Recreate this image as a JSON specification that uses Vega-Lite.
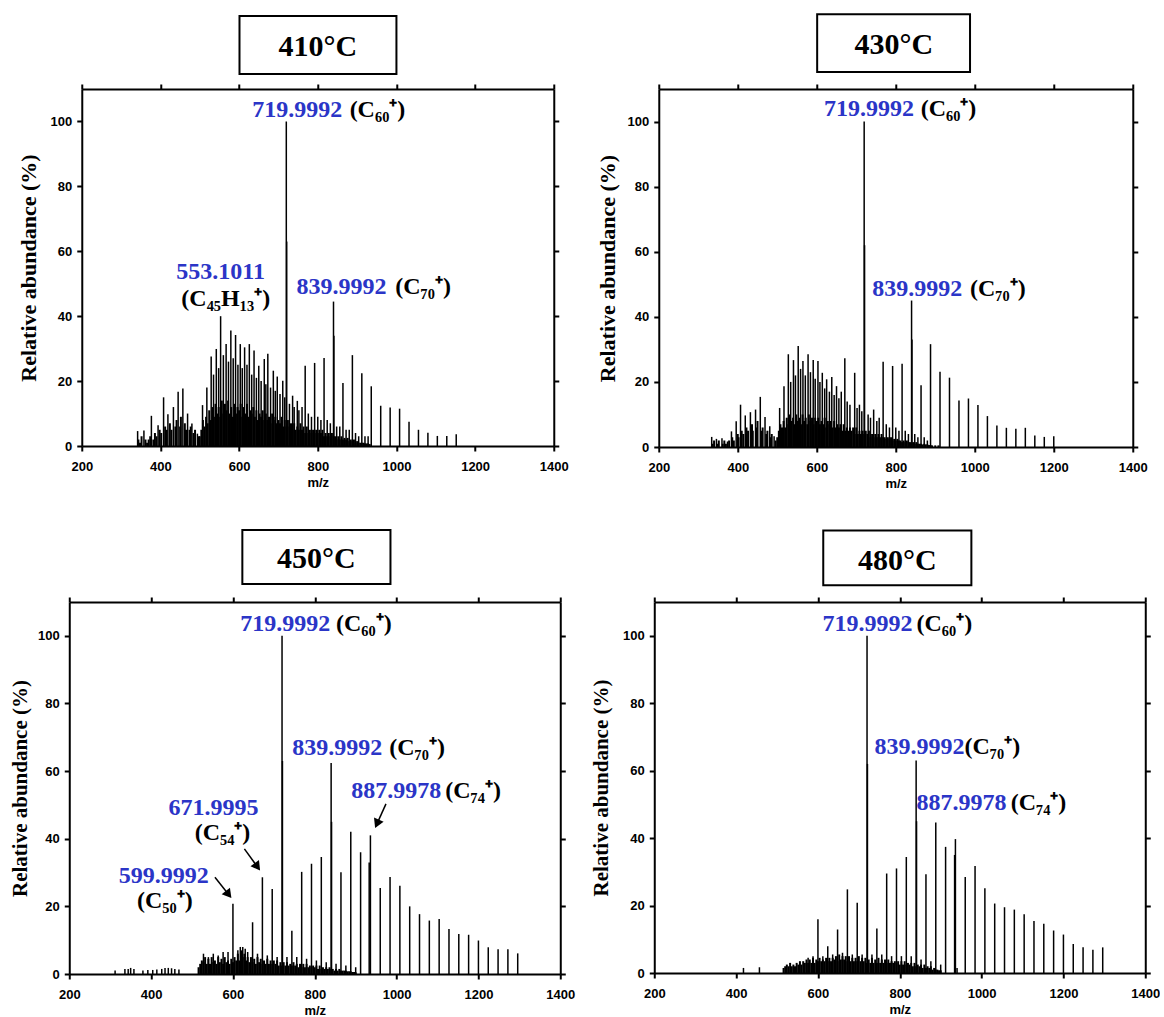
{
"$schema":"https://vega.github.io/schema/vega-lite/v6.json",
"background":"white",
"padding":{"left":9,"top":13,"right":0,"bottom":0},
"datasets":{
"p410":[{"mz":342,"ab":4.6},{"mz":358,"ab":4.8},{"mz":377,"ab":9.3},{"mz":394,"ab":6.4},{"mz":408,"ab":15},{"mz":419,"ab":9.8},{"mz":433,"ab":12},{"mz":445,"ab":16.7},{"mz":457,"ab":17.7},{"mz":469,"ab":10},{"mz":480,"ab":6.9},{"mz":494,"ab":3.8},{"mz":507,"ab":12.6},{"mz":518,"ab":18},{"mz":529,"ab":27.6},{"mz":542,"ab":29.9},{"mz":553,"ab":40},{"mz":567,"ab":31.4},{"mz":579,"ab":35.6},{"mz":591,"ab":34.2},{"mz":603,"ab":31.4},{"mz":614,"ab":30.4},{"mz":626,"ab":31.4},{"mz":638,"ab":29.4},{"mz":650,"ab":24.7},{"mz":664,"ab":26.8},{"mz":673,"ab":28.4},{"mz":687,"ab":23.2},{"mz":697,"ab":21.4},{"mz":711,"ab":20.1},{"mz":720,"ab":100},{"mz":721,"ab":63},{"mz":736,"ab":15.5},{"mz":748,"ab":13.9},{"mz":768,"ab":24.7},{"mz":792,"ab":25.6},{"mz":816,"ab":27.1},{"mz":840,"ab":44.5},{"mz":841,"ab":34},{"mz":864,"ab":19.4},{"mz":888,"ab":28},{"mz":912,"ab":22.4},{"mz":936,"ab":18.4},{"mz":960,"ab":12.4},{"mz":984,"ab":11.9},{"mz":1008,"ab":11.5},{"mz":1032,"ab":7.5},{"mz":1056,"ab":5},{"mz":1080,"ab":4.1},{"mz":1104,"ab":3.1},{"mz":1128,"ab":3.1},{"mz":1152,"ab":3.6},{"mz":535,"ab":22},{"mz":548,"ab":24},{"mz":560,"ab":28},{"mz":573,"ab":26},{"mz":585,"ab":27},{"mz":597,"ab":25},{"mz":608,"ab":24},{"mz":620,"ab":25},{"mz":632,"ab":22},{"mz":644,"ab":21},{"mz":656,"ab":20},{"mz":668,"ab":19},{"mz":680,"ab":18},{"mz":692,"ab":17},{"mz":704,"ab":16},{"mz":716,"ab":15},{"mz":728,"ab":13},{"mz":740,"ab":12},{"mz":752,"ab":11},{"mz":760,"ab":12},{"mz":776,"ab":10},{"mz":784,"ab":9},{"mz":800,"ab":9},{"mz":808,"ab":8},{"mz":824,"ab":8},{"mz":832,"ab":7},{"mz":848,"ab":6},{"mz":856,"ab":6},{"mz":872,"ab":5},{"mz":880,"ab":5},{"mz":896,"ab":4},{"mz":904,"ab":3},{"mz":920,"ab":3},{"mz":928,"ab":3}],
"g410":[{"mz":344,"ab":2},{"mz":348,"ab":1},{"mz":352,"ab":3},{"mz":362,"ab":2},{"mz":366,"ab":1},{"mz":370,"ab":2},{"mz":374,"ab":3},{"mz":382,"ab":2},{"mz":386,"ab":4},{"mz":390,"ab":3},{"mz":398,"ab":5},{"mz":402,"ab":4},{"mz":412,"ab":6},{"mz":416,"ab":5},{"mz":424,"ab":7},{"mz":428,"ab":5},{"mz":438,"ab":6},{"mz":441,"ab":8},{"mz":450,"ab":6},{"mz":452,"ab":9},{"mz":462,"ab":7},{"mz":465,"ab":5},{"mz":474,"ab":5},{"mz":477,"ab":6},{"mz":484,"ab":4},{"mz":488,"ab":5},{"mz":498,"ab":3},
{"mz":500,"ab":3},{"mz":504,"ab":5},{"mz":508,"ab":8},{"mz":512,"ab":6},{"mz":516,"ab":9},{"mz":520,"ab":7},{"mz":524,"ab":11},{"mz":528,"ab":8},{"mz":532,"ab":12},{"mz":536,"ab":9},{"mz":540,"ab":13},{"mz":544,"ab":10},{"mz":548,"ab":12},{"mz":552,"ab":9},{"mz":556,"ab":14},{"mz":560,"ab":10},{"mz":564,"ab":13},{"mz":568,"ab":11},{"mz":572,"ab":14},{"mz":576,"ab":10},{"mz":580,"ab":12},{"mz":584,"ab":9},{"mz":588,"ab":13},{"mz":592,"ab":10},{"mz":596,"ab":12},{"mz":600,"ab":11},{"mz":604,"ab":13},{"mz":608,"ab":9},{"mz":612,"ab":12},{"mz":616,"ab":10},{"mz":620,"ab":13},{"mz":624,"ab":9},{"mz":628,"ab":11},{"mz":632,"ab":10},{"mz":636,"ab":12},{"mz":640,"ab":9},{"mz":644,"ab":11},{"mz":648,"ab":8},{"mz":652,"ab":10},{"mz":656,"ab":9},{"mz":660,"ab":11},{"mz":664,"ab":8},{"mz":668,"ab":10},{"mz":672,"ab":8},{"mz":676,"ab":9},{"mz":680,"ab":7},{"mz":684,"ab":10},{"mz":688,"ab":8},{"mz":692,"ab":9},{"mz":696,"ab":7},{"mz":700,"ab":8},{"mz":704,"ab":7},{"mz":708,"ab":9},{"mz":712,"ab":6},{"mz":716,"ab":8},{"mz":720,"ab":6},{"mz":724,"ab":8},{"mz":728,"ab":6},{"mz":732,"ab":7},{"mz":736,"ab":5},{"mz":740,"ab":7},{"mz":744,"ab":5},{"mz":748,"ab":6},{"mz":752,"ab":5},{"mz":756,"ab":7},{"mz":760,"ab":5},{"mz":764,"ab":6},{"mz":768,"ab":4},{"mz":772,"ab":6},{"mz":776,"ab":4},{"mz":780,"ab":5},{"mz":784,"ab":4},{"mz":788,"ab":5},{"mz":792,"ab":4},{"mz":796,"ab":5},{"mz":800,"ab":4},{"mz":804,"ab":5},{"mz":808,"ab":4},{"mz":812,"ab":5},{"mz":816,"ab":3},{"mz":820,"ab":4},{"mz":824,"ab":3},{"mz":828,"ab":4},{"mz":832,"ab":3},{"mz":836,"ab":4},{"mz":840,"ab":3},{"mz":844,"ab":3},{"mz":848,"ab":2},{"mz":852,"ab":3},{"mz":856,"ab":2},{"mz":860,"ab":3},{"mz":864,"ab":2},{"mz":868,"ab":2.5},{"mz":872,"ab":2},{"mz":876,"ab":2.5},{"mz":880,"ab":1.5},{"mz":884,"ab":2},{"mz":888,"ab":1.5},{"mz":892,"ab":2},{"mz":896,"ab":1},{"mz":900,"ab":1.5},{"mz":904,"ab":1},{"mz":908,"ab":1},{"mz":912,"ab":1},{"mz":916,"ab":1},{"mz":920,"ab":0.8},{"mz":924,"ab":0.8},{"mz":928,"ab":0.8},{"mz":932,"ab":0.6}],
"p430":[{"mz":334,"ab":3.1},{"mz":346,"ab":2.5},{"mz":360,"ab":2.7},{"mz":374,"ab":1.7},{"mz":384,"ab":4.8},{"mz":396,"ab":7.9},{"mz":407,"ab":13},{"mz":419,"ab":9.7},{"mz":432,"ab":10.7},{"mz":445,"ab":11.5},{"mz":457,"ab":15.4},{"mz":469,"ab":9.2},{"mz":481,"ab":6.4},{"mz":492,"ab":3.3},{"mz":506,"ab":12},{"mz":517,"ab":18.7},{"mz":528,"ab":28.5},{"mz":541,"ab":26.7},{"mz":553,"ab":31},{"mz":565,"ab":26.4},{"mz":578,"ab":28.5},{"mz":591,"ab":26.7},{"mz":603,"ab":26.4},{"mz":614,"ab":22.8},{"mz":625,"ab":20.8},{"mz":638,"ab":21.5},{"mz":650,"ab":18.7},{"mz":671,"ab":27.3},{"mz":696,"ab":22.8},{"mz":720,"ab":100},{"mz":721,"ab":62},{"mz":744,"ab":11.5},{"mz":768,"ab":26.2},{"mz":792,"ab":24.9},{"mz":816,"ab":25.6},{"mz":840,"ab":45},{"mz":841,"ab":33},{"mz":864,"ab":19},{"mz":888,"ab":31.6},{"mz":912,"ab":23.1},{"mz":936,"ab":21.3},{"mz":960,"ab":14.3},{"mz":984,"ab":14.9},{"mz":1008,"ab":12.9},{"mz":1032,"ab":9.5},{"mz":1056,"ab":6.6},{"mz":1080,"ab":5.9},{"mz":1104,"ab":5.6},{"mz":1128,"ab":5.9},{"mz":1152,"ab":3.5},{"mz":1176,"ab":3.1},{"mz":1200,"ab":3.3},{"mz":534,"ab":20},{"mz":546,"ab":22},{"mz":559,"ab":24},{"mz":571,"ab":22},{"mz":584,"ab":23},{"mz":596,"ab":21},{"mz":608,"ab":20},{"mz":620,"ab":18},{"mz":632,"ab":17},{"mz":644,"ab":16},{"mz":656,"ab":15},{"mz":662,"ab":17},{"mz":677,"ab":14},{"mz":684,"ab":13},{"mz":702,"ab":12},{"mz":708,"ab":13},{"mz":714,"ab":11},{"mz":730,"ab":10},{"mz":736,"ab":9},{"mz":752,"ab":8},{"mz":758,"ab":9},{"mz":776,"ab":7},{"mz":784,"ab":6},{"mz":800,"ab":6},{"mz":808,"ab":5},{"mz":824,"ab":5},{"mz":832,"ab":4},{"mz":848,"ab":4},{"mz":856,"ab":3},{"mz":872,"ab":3},{"mz":880,"ab":2}],
"g430":[{"mz":336,"ab":1},{"mz":340,"ab":2},{"mz":348,"ab":1},{"mz":352,"ab":2},{"mz":362,"ab":1},{"mz":366,"ab":2},{"mz":370,"ab":1},{"mz":378,"ab":2},{"mz":386,"ab":3},{"mz":390,"ab":2},{"mz":400,"ab":4},{"mz":402,"ab":3},{"mz":410,"ab":5},{"mz":414,"ab":4},{"mz":422,"ab":6},{"mz":426,"ab":5},{"mz":436,"ab":7},{"mz":438,"ab":5},{"mz":448,"ab":6},{"mz":450,"ab":8},{"mz":460,"ab":5},{"mz":463,"ab":6},{"mz":472,"ab":4},{"mz":475,"ab":5},{"mz":484,"ab":3},{"mz":486,"ab":4},{"mz":496,"ab":2},
{"mz":500,"ab":3},{"mz":504,"ab":5},{"mz":508,"ab":7},{"mz":512,"ab":6},{"mz":516,"ab":8},{"mz":520,"ab":6},{"mz":524,"ab":9},{"mz":528,"ab":7},{"mz":532,"ab":10},{"mz":536,"ab":8},{"mz":540,"ab":9},{"mz":544,"ab":7},{"mz":548,"ab":10},{"mz":552,"ab":8},{"mz":556,"ab":9},{"mz":560,"ab":7},{"mz":564,"ab":10},{"mz":568,"ab":8},{"mz":572,"ab":9},{"mz":576,"ab":7},{"mz":580,"ab":10},{"mz":584,"ab":8},{"mz":588,"ab":9},{"mz":592,"ab":7},{"mz":596,"ab":9},{"mz":600,"ab":8},{"mz":604,"ab":9},{"mz":608,"ab":7},{"mz":612,"ab":8},{"mz":616,"ab":7},{"mz":620,"ab":9},{"mz":624,"ab":6},{"mz":628,"ab":8},{"mz":632,"ab":7},{"mz":636,"ab":8},{"mz":640,"ab":6},{"mz":644,"ab":8},{"mz":648,"ab":6},{"mz":652,"ab":7},{"mz":656,"ab":6},{"mz":660,"ab":7},{"mz":664,"ab":5},{"mz":668,"ab":7},{"mz":672,"ab":5},{"mz":676,"ab":6},{"mz":680,"ab":5},{"mz":684,"ab":6},{"mz":688,"ab":5},{"mz":692,"ab":6},{"mz":696,"ab":4},{"mz":700,"ab":6},{"mz":704,"ab":4},{"mz":708,"ab":5},{"mz":712,"ab":4},{"mz":716,"ab":5},{"mz":720,"ab":4},{"mz":724,"ab":5},{"mz":728,"ab":4},{"mz":732,"ab":5},{"mz":736,"ab":3},{"mz":740,"ab":4},{"mz":744,"ab":3},{"mz":748,"ab":4},{"mz":752,"ab":3},{"mz":756,"ab":4},{"mz":760,"ab":3},{"mz":764,"ab":4},{"mz":768,"ab":3},{"mz":772,"ab":3},{"mz":776,"ab":2.5},{"mz":780,"ab":3},{"mz":784,"ab":2.5},{"mz":788,"ab":3},{"mz":792,"ab":2},{"mz":796,"ab":2.5},{"mz":800,"ab":2},{"mz":804,"ab":2.5},{"mz":808,"ab":2},{"mz":812,"ab":2},{"mz":816,"ab":1.5},{"mz":820,"ab":2},{"mz":824,"ab":1.5},{"mz":828,"ab":2},{"mz":832,"ab":1.5},{"mz":836,"ab":1.5},{"mz":840,"ab":1},{"mz":844,"ab":1.5},{"mz":848,"ab":1},{"mz":852,"ab":1.5},{"mz":856,"ab":1},{"mz":860,"ab":1},{"mz":864,"ab":1},{"mz":868,"ab":0.8},{"mz":872,"ab":1},{"mz":876,"ab":0.8},{"mz":880,"ab":0.8},{"mz":884,"ab":0.6},{"mz":888,"ab":0.6},{"mz":892,"ab":0.5},{"mz":900,"ab":0.5},{"mz":908,"ab":0.5}],
"p450":[{"mz":600,"ab":20.8},{"mz":624,"ab":8},{"mz":648,"ab":15.3},{"mz":672,"ab":28.6},{"mz":696,"ab":25.1},{"mz":720,"ab":100},{"mz":721,"ab":63},{"mz":744,"ab":12.8},{"mz":768,"ab":30.2},{"mz":792,"ab":32.6},{"mz":816,"ab":34.6},{"mz":840,"ab":62.4},{"mz":841,"ab":45},{"mz":864,"ab":30.1},{"mz":888,"ab":42.1},{"mz":912,"ab":36},{"mz":933,"ab":33},{"mz":936,"ab":41},{"mz":960,"ab":25.4},{"mz":984,"ab":28.7},{"mz":1008,"ab":26.1},{"mz":1032,"ab":20},{"mz":1056,"ab":17.7},{"mz":1080,"ab":15.8},{"mz":1104,"ab":16.3},{"mz":1128,"ab":13.3},{"mz":1152,"ab":11.8},{"mz":1176,"ab":11.6},{"mz":1200,"ab":9.9},{"mz":1224,"ab":7.9},{"mz":1248,"ab":7.3},{"mz":1272,"ab":7.3},{"mz":1296,"ab":6.1},{"mz":312,"ab":1},{"mz":336,"ab":1.5},{"mz":344,"ab":1.5},{"mz":350,"ab":1.8},{"mz":358,"ab":1.5},{"mz":380,"ab":1},{"mz":392,"ab":1.2},{"mz":404,"ab":1.2},{"mz":414,"ab":1.3},{"mz":426,"ab":1.5},{"mz":434,"ab":1.8},{"mz":442,"ab":1.8},{"mz":450,"ab":1.7},{"mz":458,"ab":1.5},{"mz":468,"ab":1.3},{"mz":528,"ab":6},{"mz":540,"ab":5},{"mz":552,"ab":6},{"mz":564,"ab":5.5},{"mz":576,"ab":6.5},{"mz":588,"ab":6.5},{"mz":612,"ab":7},{"mz":618,"ab":8},{"mz":630,"ab":7.5},{"mz":636,"ab":6.5},{"mz":660,"ab":6},{"mz":684,"ab":5.5},{"mz":708,"ab":5},{"mz":732,"ab":5},{"mz":756,"ab":5},{"mz":780,"ab":4.5},{"mz":804,"ab":4},{"mz":828,"ab":3.5},{"mz":852,"ab":3},{"mz":876,"ab":2.5},{"mz":900,"ab":2}],
"g450":[{"mz":516,"ab":2},{"mz":520,"ab":3},{"mz":524,"ab":4},{"mz":528,"ab":3.5},{"mz":532,"ab":5},{"mz":536,"ab":3},{"mz":540,"ab":4.5},{"mz":544,"ab":3},{"mz":548,"ab":5},{"mz":552,"ab":3.5},{"mz":556,"ab":4},{"mz":560,"ab":3},{"mz":564,"ab":5},{"mz":568,"ab":3.5},{"mz":572,"ab":4.5},{"mz":576,"ab":3},{"mz":580,"ab":5},{"mz":584,"ab":3.5},{"mz":588,"ab":4},{"mz":592,"ab":3},{"mz":596,"ab":4.5},{"mz":600,"ab":3.5},{"mz":604,"ab":5},{"mz":608,"ab":4},{"mz":612,"ab":6},{"mz":616,"ab":4},{"mz":620,"ab":7},{"mz":624,"ab":5},{"mz":628,"ab":6},{"mz":632,"ab":4},{"mz":636,"ab":5},{"mz":640,"ab":3.5},{"mz":644,"ab":5},{"mz":648,"ab":3.5},{"mz":652,"ab":4.5},{"mz":656,"ab":3},{"mz":660,"ab":5},{"mz":664,"ab":3.5},{"mz":668,"ab":4.5},{"mz":672,"ab":3},{"mz":676,"ab":4},{"mz":680,"ab":3},{"mz":684,"ab":4.5},{"mz":688,"ab":3},{"mz":692,"ab":4},{"mz":696,"ab":3},{"mz":700,"ab":4},{"mz":704,"ab":3},{"mz":708,"ab":4},{"mz":712,"ab":2.5},{"mz":716,"ab":3.5},{"mz":720,"ab":2.5},{"mz":724,"ab":3.5},{"mz":728,"ab":2.5},{"mz":732,"ab":3.5},{"mz":736,"ab":2.5},{"mz":740,"ab":3},{"mz":744,"ab":2.5},{"mz":748,"ab":3.5},{"mz":752,"ab":2.5},{"mz":756,"ab":3},{"mz":760,"ab":2},{"mz":764,"ab":3},{"mz":768,"ab":2},{"mz":772,"ab":3},{"mz":776,"ab":2},{"mz":780,"ab":3},{"mz":784,"ab":2},{"mz":788,"ab":2.5},{"mz":792,"ab":2},{"mz":796,"ab":2.5},{"mz":800,"ab":2},{"mz":804,"ab":2.5},{"mz":808,"ab":1.5},{"mz":812,"ab":2.5},{"mz":816,"ab":1.5},{"mz":820,"ab":2},{"mz":824,"ab":1.5},{"mz":828,"ab":2},{"mz":832,"ab":1.5},{"mz":836,"ab":2},{"mz":840,"ab":1.5},{"mz":844,"ab":1.5},{"mz":848,"ab":1},{"mz":852,"ab":1.5},{"mz":856,"ab":1},{"mz":860,"ab":1.5},{"mz":864,"ab":1},{"mz":868,"ab":1},{"mz":872,"ab":1},{"mz":876,"ab":1},{"mz":880,"ab":0.8},{"mz":884,"ab":0.8},{"mz":888,"ab":0.8},{"mz":892,"ab":0.6},{"mz":896,"ab":0.6},{"mz":900,"ab":0.5}],
"p480":[{"mz":418,"ab":1.5},{"mz":457,"ab":1.7},{"mz":600,"ab":15.9},{"mz":624,"ab":7.9},{"mz":648,"ab":12.9},{"mz":672,"ab":24.8},{"mz":696,"ab":20.8},{"mz":720,"ab":100},{"mz":721,"ab":62},{"mz":744,"ab":13.2},{"mz":768,"ab":29.5},{"mz":792,"ab":31},{"mz":816,"ab":34.4},{"mz":840,"ab":63},{"mz":841,"ab":45},{"mz":864,"ab":29.3},{"mz":888,"ab":44.6},{"mz":912,"ab":37.4},{"mz":934,"ab":35},{"mz":936,"ab":39.7},{"mz":960,"ab":28.5},{"mz":984,"ab":31.7},{"mz":1008,"ab":25.1},{"mz":1032,"ab":20.6},{"mz":1056,"ab":19.5},{"mz":1080,"ab":18.8},{"mz":1104,"ab":17.4},{"mz":1128,"ab":15.4},{"mz":1152,"ab":14.6},{"mz":1176,"ab":12.6},{"mz":1200,"ab":11.4},{"mz":1224,"ab":8.6},{"mz":1248,"ab":7.6},{"mz":1272,"ab":6.9},{"mz":1296,"ab":7.6},{"mz":576,"ab":4.5},{"mz":588,"ab":5},{"mz":612,"ab":5},{"mz":636,"ab":5.5},{"mz":660,"ab":6},{"mz":684,"ab":5.5},{"mz":708,"ab":5.5},{"mz":732,"ab":5.5},{"mz":756,"ab":5.5},{"mz":780,"ab":5},{"mz":804,"ab":5},{"mz":828,"ab":5},{"mz":852,"ab":4},{"mz":876,"ab":3.5},{"mz":900,"ab":2.5},{"mz":940,"ab":1.5}],
"g480":[{"mz":516,"ab":1.5},{"mz":520,"ab":2},{"mz":524,"ab":2.5},{"mz":528,"ab":2},{"mz":532,"ab":3},{"mz":536,"ab":2},{"mz":540,"ab":2.5},{"mz":544,"ab":2},{"mz":548,"ab":3},{"mz":552,"ab":2.5},{"mz":556,"ab":3.5},{"mz":560,"ab":2.5},{"mz":564,"ab":3.5},{"mz":568,"ab":3},{"mz":572,"ab":4},{"mz":576,"ab":3},{"mz":580,"ab":4},{"mz":584,"ab":3},{"mz":588,"ab":4.5},{"mz":592,"ab":3},{"mz":596,"ab":4},{"mz":600,"ab":3.5},{"mz":604,"ab":4.5},{"mz":608,"ab":3.5},{"mz":612,"ab":4},{"mz":616,"ab":3.5},{"mz":620,"ab":4.5},{"mz":624,"ab":3.5},{"mz":628,"ab":4.5},{"mz":632,"ab":3.5},{"mz":636,"ab":4.5},{"mz":640,"ab":4},{"mz":644,"ab":5},{"mz":648,"ab":3.5},{"mz":652,"ab":5.5},{"mz":656,"ab":4},{"mz":660,"ab":5},{"mz":664,"ab":4},{"mz":668,"ab":5},{"mz":672,"ab":3.5},{"mz":676,"ab":5},{"mz":680,"ab":3.5},{"mz":684,"ab":4.5},{"mz":688,"ab":3.5},{"mz":692,"ab":4.5},{"mz":696,"ab":3.5},{"mz":700,"ab":5},{"mz":704,"ab":3.5},{"mz":708,"ab":4.5},{"mz":712,"ab":3.5},{"mz":716,"ab":4.5},{"mz":720,"ab":3},{"mz":724,"ab":4},{"mz":728,"ab":3},{"mz":732,"ab":4.5},{"mz":736,"ab":3},{"mz":740,"ab":4},{"mz":744,"ab":3},{"mz":748,"ab":4.5},{"mz":752,"ab":3},{"mz":756,"ab":4},{"mz":760,"ab":3},{"mz":764,"ab":4},{"mz":768,"ab":3},{"mz":772,"ab":4},{"mz":776,"ab":3},{"mz":780,"ab":3.5},{"mz":784,"ab":3},{"mz":788,"ab":3.5},{"mz":792,"ab":3},{"mz":796,"ab":3.5},{"mz":800,"ab":2.5},{"mz":804,"ab":3.5},{"mz":808,"ab":2.5},{"mz":812,"ab":3.5},{"mz":816,"ab":2.5},{"mz":820,"ab":3},{"mz":824,"ab":2.5},{"mz":828,"ab":3},{"mz":832,"ab":2},{"mz":836,"ab":3},{"mz":840,"ab":2},{"mz":844,"ab":2.5},{"mz":848,"ab":2},{"mz":852,"ab":2.5},{"mz":856,"ab":1.5},{"mz":860,"ab":2.5},{"mz":864,"ab":1.5},{"mz":868,"ab":2},{"mz":872,"ab":1.5},{"mz":876,"ab":2},{"mz":880,"ab":1},{"mz":884,"ab":1.5},{"mz":888,"ab":1},{"mz":892,"ab":1},{"mz":896,"ab":0.8},{"mz":900,"ab":0.8}],
"t410":[{"mz":862,"ab":103.5,"label":"719.9992","ink":"blue","anchor":"right"},{"mz":881,"ab":103.5,"label":"(C₆₀⁺)","ink":"black","anchor":"left"},{"mz":975,"ab":49,"label":"839.9992","ink":"blue","anchor":"right"},{"mz":997,"ab":49,"label":"(C₇₀⁺)","ink":"black","anchor":"left"},{"mz":553,"ab":53.6,"label":"553.1011","ink":"blue","anchor":"center"},{"mz":566,"ab":45.4,"label":"(C₄₅H₁₃⁺)","ink":"black","anchor":"center"}],
"t430":[{"mz":846,"ab":104,"label":"719.9992","ink":"blue","anchor":"right"},{"mz":863,"ab":104,"label":"(C₆₀⁺)","ink":"black","anchor":"left"},{"mz":968,"ab":48.6,"label":"839.9992","ink":"blue","anchor":"right"},{"mz":988,"ab":48.6,"label":"(C₇₀⁺)","ink":"black","anchor":"left"}],
"t450":[{"mz":838,"ab":103.5,"label":"719.9992","ink":"blue","anchor":"right"},{"mz":852,"ab":103.5,"label":"(C₆₀⁺)","ink":"black","anchor":"left"},{"mz":965,"ab":66.8,"label":"839.9992","ink":"blue","anchor":"right"},{"mz":982,"ab":66.8,"label":"(C₇₀⁺)","ink":"black","anchor":"left"},{"mz":1109,"ab":54,"label":"887.9978","ink":"blue","anchor":"right"},{"mz":1119,"ab":54,"label":"(C₇₄⁺)","ink":"black","anchor":"left"},{"mz":552.5,"ab":49,"label":"671.9995","ink":"blue","anchor":"center"},{"mz":574.5,"ab":41.6,"label":"(C₅₄⁺)","ink":"black","anchor":"center"},{"mz":431,"ab":29,"label":"599.9992","ink":"blue","anchor":"center"},{"mz":433.5,"ab":21.6,"label":"(C₅₀⁺)","ink":"black","anchor":"center"}],
"t480":[{"mz":831,"ab":103.5,"label":"719.9992","ink":"blue","anchor":"right"},{"mz":841,"ab":103.5,"label":"(C₆₀⁺)","ink":"black","anchor":"left"},{"mz":958,"ab":67,"label":"839.9992","ink":"blue","anchor":"right"},{"mz":958,"ab":67,"label":"(C₇₀⁺)","ink":"black","anchor":"left"},{"mz":1061,"ab":50.4,"label":"887.9978","ink":"blue","anchor":"right"},{"mz":1071,"ab":50.4,"label":"(C₇₄⁺)","ink":"black","anchor":"left"}],
"a450":[{"mz":556,"ab":28.6,"mz2":589.4,"ab2":23.5},{"mz":628,"ab":37,"mz2":659.8,"ab2":31.7},{"mz":974,"ab":50.3,"mz2":952,"ab2":44.4}]
},
"vconcat":[
{"hconcat":[
{"width":472,"height":357,"layer":[
{"data":{"name":"g410"},"mark":{"type":"rule","strokeWidth":2,"color":"black"},"encoding":{"x":{"field":"mz","type":"quantitative","scale":{"domain":[200,1400]},"axis":{"orient":"bottom","values":[200,400,600,800,1000,1200,1400],"format":"d","title":"m/z","titleFont":"Liberation Sans","titleFontWeight":"bold","titleFontSize":13,"labelPadding":9,"titlePadding":3}},"y":{"field":"ab","type":"quantitative","scale":{"domain":[0,110]},"axis":{"orient":"left","values":[0,20,40,60,80,100],"title":"Relative abundance (%)","titleFont":"Liberation Serif","titleFontWeight":"bold","titleFontSize":22,"labelPadding":5,"titlePadding":10}},"y2":{"datum":0}}},
{"data":{"name":"p410"},"mark":{"type":"rule","strokeWidth":1.5,"color":"black"},"encoding":{"x":{"field":"mz","type":"quantitative","scale":{"domain":[200,1400]},"axis":null},"y":{"field":"ab","type":"quantitative","scale":{"domain":[0,110]},"axis":null},"y2":{"datum":0}}},
{"data":{"values":[{"x1":601,"x2":1000,"y1":114.6,"y2":132.5}]},"mark":{"type":"rect","fill":"white","stroke":"black","strokeWidth":2},"encoding":{"x":{"field":"x1","type":"quantitative","scale":{"domain":[200,1400]},"axis":{"orient":"top","values":[200,400,600,800,1000,1200,1400],"labels":false,"title":null}},"x2":{"field":"x2"},"y":{"field":"y1","type":"quantitative","scale":{"domain":[0,110]},"axis":{"orient":"right","values":[0,20,40,60,80,100],"labels":false,"title":null}},"y2":{"field":"y2"}}},
{"data":{"values":[{"mz":800,"ab":123,"t":"410°C"}]},"mark":{"type":"text","fontSize":30,"align":"center","color":"black"},"encoding":{"x":{"field":"mz","type":"quantitative","scale":{"domain":[200,1400]},"axis":null},"y":{"field":"ab","type":"quantitative","scale":{"domain":[0,110]},"axis":null},"text":{"field":"t"}}},
{"data":{"name":"t410"},"transform":[{"filter":"datum.anchor == 'right'"}],"mark":{"type":"text","align":"right"},"encoding":{"x":{"field":"mz","type":"quantitative","scale":{"domain":[200,1400]},"axis":null},"y":{"field":"ab","type":"quantitative","scale":{"domain":[0,110]},"axis":null},"text":{"field":"label"},"color":{"field":"ink","type":"nominal","scale":{"domain":["blue","black"],"range":["#2b35c7","#000000"]},"legend":null}}},
{"data":{"name":"t410"},"transform":[{"filter":"datum.anchor == 'left'"}],"mark":{"type":"text","align":"left"},"encoding":{"x":{"field":"mz","type":"quantitative","scale":{"domain":[200,1400]},"axis":null},"y":{"field":"ab","type":"quantitative","scale":{"domain":[0,110]},"axis":null},"text":{"field":"label"},"color":{"field":"ink","type":"nominal","scale":{"domain":["blue","black"],"range":["#2b35c7","#000000"]},"legend":null}}},
{"data":{"name":"t410"},"transform":[{"filter":"datum.anchor == 'center'"}],"mark":{"type":"text","align":"center"},"encoding":{"x":{"field":"mz","type":"quantitative","scale":{"domain":[200,1400]},"axis":null},"y":{"field":"ab","type":"quantitative","scale":{"domain":[0,110]},"axis":null},"text":{"field":"label"},"color":{"field":"ink","type":"nominal","scale":{"domain":["blue","black"],"range":["#2b35c7","#000000"]},"legend":null}}}
],"resolve":{"axis":{"x":"independent","y":"independent"}}},
{"width":474,"height":358,"layer":[
{"data":{"name":"g430"},"mark":{"type":"rule","strokeWidth":2,"color":"black"},"encoding":{"x":{"field":"mz","type":"quantitative","scale":{"domain":[200,1400]},"axis":{"orient":"bottom","values":[200,400,600,800,1000,1200,1400],"format":"d","title":"m/z","titleFont":"Liberation Sans","titleFontWeight":"bold","titleFontSize":13,"labelPadding":9,"titlePadding":3}},"y":{"field":"ab","type":"quantitative","scale":{"domain":[0,110]},"axis":{"orient":"left","values":[0,20,40,60,80,100],"title":"Relative abundance (%)","titleFont":"Liberation Serif","titleFontWeight":"bold","titleFontSize":22,"labelPadding":5,"titlePadding":8}},"y2":{"datum":0}}},
{"data":{"name":"p430"},"mark":{"type":"rule","strokeWidth":1.5,"color":"black"},"encoding":{"x":{"field":"mz","type":"quantitative","scale":{"domain":[200,1400]},"axis":null},"y":{"field":"ab","type":"quantitative","scale":{"domain":[0,110]},"axis":null},"y2":{"datum":0}}},
{"data":{"values":[{"x1":601,"x2":988,"y1":115.2,"y2":133}]},"mark":{"type":"rect","fill":"white","stroke":"black","strokeWidth":2},"encoding":{"x":{"field":"x1","type":"quantitative","scale":{"domain":[200,1400]},"axis":{"orient":"top","values":[200,400,600,800,1000,1200,1400],"labels":false,"title":null}},"x2":{"field":"x2"},"y":{"field":"y1","type":"quantitative","scale":{"domain":[0,110]},"axis":{"orient":"right","values":[0,20,40,60,80,100],"labels":false,"title":null}},"y2":{"field":"y2"}}},
{"data":{"values":[{"mz":795,"ab":123.6,"t":"430°C"}]},"mark":{"type":"text","fontSize":30,"align":"center","color":"black"},"encoding":{"x":{"field":"mz","type":"quantitative","scale":{"domain":[200,1400]},"axis":null},"y":{"field":"ab","type":"quantitative","scale":{"domain":[0,110]},"axis":null},"text":{"field":"t"}}},
{"data":{"name":"t430"},"transform":[{"filter":"datum.anchor == 'right'"}],"mark":{"type":"text","align":"right"},"encoding":{"x":{"field":"mz","type":"quantitative","scale":{"domain":[200,1400]},"axis":null},"y":{"field":"ab","type":"quantitative","scale":{"domain":[0,110]},"axis":null},"text":{"field":"label"},"color":{"field":"ink","type":"nominal","scale":{"domain":["blue","black"],"range":["#2b35c7","#000000"]},"legend":null}}},
{"data":{"name":"t430"},"transform":[{"filter":"datum.anchor == 'left'"}],"mark":{"type":"text","align":"left"},"encoding":{"x":{"field":"mz","type":"quantitative","scale":{"domain":[200,1400]},"axis":null},"y":{"field":"ab","type":"quantitative","scale":{"domain":[0,110]},"axis":null},"text":{"field":"label"},"color":{"field":"ink","type":"nominal","scale":{"domain":["blue","black"],"range":["#2b35c7","#000000"]},"legend":null}}}
],"resolve":{"axis":{"x":"independent","y":"independent"}}}
],"spacing":105,"bounds":"flush"},
{"hconcat":[
{"width":491,"height":372,"layer":[
{"data":{"name":"g450"},"mark":{"type":"rule","strokeWidth":2,"color":"black"},"encoding":{"x":{"field":"mz","type":"quantitative","scale":{"domain":[200,1400]},"axis":{"orient":"bottom","values":[200,400,600,800,1000,1200,1400],"format":"d","title":"m/z","titleFont":"Liberation Sans","titleFontWeight":"bold","titleFontSize":13,"labelPadding":9,"titlePadding":3}},"y":{"field":"ab","type":"quantitative","scale":{"domain":[0,110]},"axis":{"orient":"left","values":[0,20,40,60,80,100],"title":"Relative abundance (%)","titleFont":"Liberation Serif","titleFontWeight":"bold","titleFontSize":21,"labelPadding":5,"titlePadding":7}},"y2":{"datum":0}}},
{"data":{"name":"p450"},"mark":{"type":"rule","strokeWidth":1.5,"color":"black"},"encoding":{"x":{"field":"mz","type":"quantitative","scale":{"domain":[200,1400]},"axis":null},"y":{"field":"ab","type":"quantitative","scale":{"domain":[0,110]},"axis":null},"y2":{"datum":0}}},
{"data":{"values":[{"x1":623,"x2":985,"y1":115.3,"y2":131.3}]},"mark":{"type":"rect","fill":"white","stroke":"black","strokeWidth":2},"encoding":{"x":{"field":"x1","type":"quantitative","scale":{"domain":[200,1400]},"axis":{"orient":"top","values":[200,400,600,800,1000,1200,1400],"labels":false,"title":null}},"x2":{"field":"x2"},"y":{"field":"y1","type":"quantitative","scale":{"domain":[0,110]},"axis":{"orient":"right","values":[0,20,40,60,80,100],"labels":false,"title":null}},"y2":{"field":"y2"}}},
{"data":{"values":[{"mz":804,"ab":122.6,"t":"450°C"}]},"mark":{"type":"text","fontSize":30,"align":"center","color":"black"},"encoding":{"x":{"field":"mz","type":"quantitative","scale":{"domain":[200,1400]},"axis":null},"y":{"field":"ab","type":"quantitative","scale":{"domain":[0,110]},"axis":null},"text":{"field":"t"}}},
{"data":{"name":"a450"},"mark":{"type":"rule","strokeWidth":1.5,"color":"black"},"encoding":{"x":{"field":"mz","type":"quantitative","scale":{"domain":[200,1400]},"axis":null},"y":{"field":"ab","type":"quantitative","scale":{"domain":[0,110]},"axis":null},"x2":{"field":"mz2"},"y2":{"field":"ab2"}}},
{"data":{"values":[{"mz":589.4,"ab":23.5}]},"mark":{"type":"point","shape":"triangle-up","filled":true,"color":"black","opacity":1,"size":110,"angle":142},"encoding":{"x":{"field":"mz","type":"quantitative","scale":{"domain":[200,1400]},"axis":null},"y":{"field":"ab","type":"quantitative","scale":{"domain":[0,110]},"axis":null}}},
{"data":{"values":[{"mz":659.8,"ab":31.7}]},"mark":{"type":"point","shape":"triangle-up","filled":true,"color":"black","opacity":1,"size":110,"angle":144},"encoding":{"x":{"field":"mz","type":"quantitative","scale":{"domain":[200,1400]},"axis":null},"y":{"field":"ab","type":"quantitative","scale":{"domain":[0,110]},"axis":null}}},
{"data":{"values":[{"mz":952,"ab":44.4}]},"mark":{"type":"point","shape":"triangle-up","filled":true,"color":"black","opacity":1,"size":110,"angle":204},"encoding":{"x":{"field":"mz","type":"quantitative","scale":{"domain":[200,1400]},"axis":null},"y":{"field":"ab","type":"quantitative","scale":{"domain":[0,110]},"axis":null}}},
{"data":{"name":"t450"},"transform":[{"filter":"datum.anchor == 'right'"}],"mark":{"type":"text","align":"right"},"encoding":{"x":{"field":"mz","type":"quantitative","scale":{"domain":[200,1400]},"axis":null},"y":{"field":"ab","type":"quantitative","scale":{"domain":[0,110]},"axis":null},"text":{"field":"label"},"color":{"field":"ink","type":"nominal","scale":{"domain":["blue","black"],"range":["#2b35c7","#000000"]},"legend":null}}},
{"data":{"name":"t450"},"transform":[{"filter":"datum.anchor == 'left'"}],"mark":{"type":"text","align":"left"},"encoding":{"x":{"field":"mz","type":"quantitative","scale":{"domain":[200,1400]},"axis":null},"y":{"field":"ab","type":"quantitative","scale":{"domain":[0,110]},"axis":null},"text":{"field":"label"},"color":{"field":"ink","type":"nominal","scale":{"domain":["blue","black"],"range":["#2b35c7","#000000"]},"legend":null}}},
{"data":{"name":"t450"},"transform":[{"filter":"datum.anchor == 'center'"}],"mark":{"type":"text","align":"center"},"encoding":{"x":{"field":"mz","type":"quantitative","scale":{"domain":[200,1400]},"axis":null},"y":{"field":"ab","type":"quantitative","scale":{"domain":[0,110]},"axis":null},"text":{"field":"label"},"color":{"field":"ink","type":"nominal","scale":{"domain":["blue","black"],"range":["#2b35c7","#000000"]},"legend":null}}}
],"resolve":{"axis":{"x":"independent","y":"independent"}}},
{"width":491,"height":371,"layer":[
{"data":{"name":"g480"},"mark":{"type":"rule","strokeWidth":2,"color":"black"},"encoding":{"x":{"field":"mz","type":"quantitative","scale":{"domain":[200,1400]},"axis":{"orient":"bottom","values":[200,400,600,800,1000,1200,1400],"format":"d","title":"m/z","titleFont":"Liberation Sans","titleFontWeight":"bold","titleFontSize":13,"labelPadding":9,"titlePadding":3}},"y":{"field":"ab","type":"quantitative","scale":{"domain":[0,110]},"axis":{"orient":"left","values":[0,20,40,60,80,100],"title":"Relative abundance (%)","titleFont":"Liberation Serif","titleFontWeight":"bold","titleFontSize":21,"labelPadding":5,"titlePadding":11}},"y2":{"datum":0}}},
{"data":{"name":"p480"},"mark":{"type":"rule","strokeWidth":1.5,"color":"black"},"encoding":{"x":{"field":"mz","type":"quantitative","scale":{"domain":[200,1400]},"axis":null},"y":{"field":"ab","type":"quantitative","scale":{"domain":[0,110]},"axis":null},"y2":{"datum":0}}},
{"data":{"values":[{"x1":613,"x2":975,"y1":115,"y2":131.2}]},"mark":{"type":"rect","fill":"white","stroke":"black","strokeWidth":2},"encoding":{"x":{"field":"x1","type":"quantitative","scale":{"domain":[200,1400]},"axis":{"orient":"top","values":[200,400,600,800,1000,1200,1400],"labels":false,"title":null}},"x2":{"field":"x2"},"y":{"field":"y1","type":"quantitative","scale":{"domain":[0,110]},"axis":{"orient":"right","values":[0,20,40,60,80,100],"labels":false,"title":null}},"y2":{"field":"y2"}}},
{"data":{"values":[{"mz":794,"ab":122.2,"t":"480°C"}]},"mark":{"type":"text","fontSize":30,"align":"center","color":"black"},"encoding":{"x":{"field":"mz","type":"quantitative","scale":{"domain":[200,1400]},"axis":null},"y":{"field":"ab","type":"quantitative","scale":{"domain":[0,110]},"axis":null},"text":{"field":"t"}}},
{"data":{"name":"t480"},"transform":[{"filter":"datum.anchor == 'right'"}],"mark":{"type":"text","align":"right"},"encoding":{"x":{"field":"mz","type":"quantitative","scale":{"domain":[200,1400]},"axis":null},"y":{"field":"ab","type":"quantitative","scale":{"domain":[0,110]},"axis":null},"text":{"field":"label"},"color":{"field":"ink","type":"nominal","scale":{"domain":["blue","black"],"range":["#2b35c7","#000000"]},"legend":null}}},
{"data":{"name":"t480"},"transform":[{"filter":"datum.anchor == 'left'"}],"mark":{"type":"text","align":"left"},"encoding":{"x":{"field":"mz","type":"quantitative","scale":{"domain":[200,1400]},"axis":null},"y":{"field":"ab","type":"quantitative","scale":{"domain":[0,110]},"axis":null},"text":{"field":"label"},"color":{"field":"ink","type":"nominal","scale":{"domain":["blue","black"],"range":["#2b35c7","#000000"]},"legend":null}}}
],"resolve":{"axis":{"x":"independent","y":"independent"}}}
],"spacing":94,"bounds":"flush"}
],
"spacing":38,"bounds":"full","center":true,
"config":{
"view":{"stroke":null},
"axis":{"grid":false,"domainColor":"black","domainWidth":2,"tickColor":"black","tickWidth":2,"tickSize":5,"labelColor":"black","labelFont":"Liberation Sans","labelFontWeight":"bold","labelFontSize":13,"labelFlush":false,"titleColor":"black"},
"text":{"font":"Liberation Serif","fontWeight":"bold","fontSize":24,"baseline":"middle"}
}
}
